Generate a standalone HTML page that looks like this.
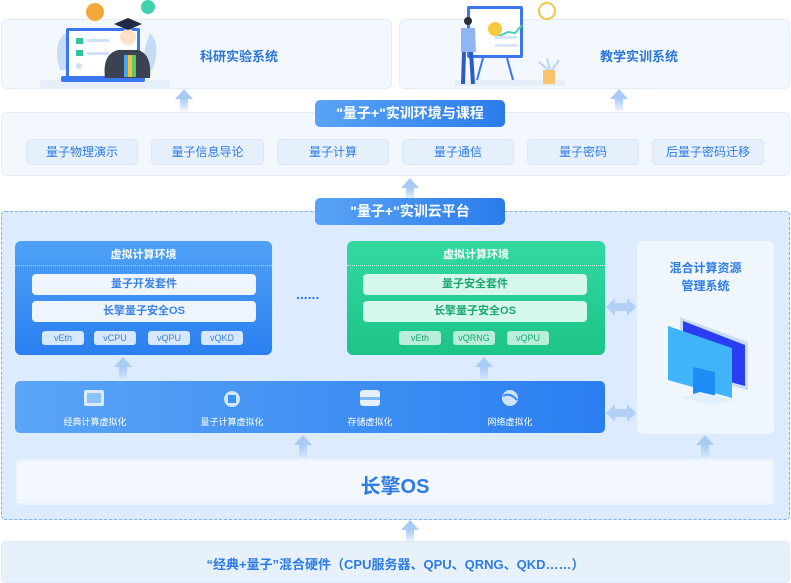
<!DOCTYPE html>
<html><head><meta charset="utf-8">
<style>
*{margin:0;padding:0;box-sizing:border-box}
body{width:791px;height:583px;background:#fff;position:relative;overflow:hidden;font-family:"Liberation Sans","Noto Sans CJK SC",sans-serif}
.a{position:absolute}
.box{position:absolute;background:#f3f8fe;border:1px solid #e2edfa;border-radius:6px}
.t{position:absolute;text-align:center;white-space:nowrap}
.item{position:absolute;top:139px;height:26px;background:#e6f0fc;border:1px solid #dbe8f8;border-radius:4px;color:#2d7be6;font-size:12px;line-height:24px;text-align:center}
.pill{position:absolute;left:315px;width:190px;height:27px;border-radius:5px;background:linear-gradient(90deg,#5aa3f7,#2a7cea);color:#fff;font-weight:bold;font-size:14px;line-height:27px;text-align:center}
.up{position:absolute;width:18px;height:22px}
.up:before{content:"";position:absolute;left:0;top:0;border-left:9px solid transparent;border-right:9px solid transparent;border-bottom:10px solid #a9ccf6}
.up:after{content:"";position:absolute;left:5px;top:10px;width:8px;height:12px;background:linear-gradient(#a9ccf6,rgba(169,204,246,0.2))}
.env{position:absolute;top:241px;height:114px;border-radius:6px}
.bar{position:absolute;height:21px;border-radius:4px;font-size:11px;line-height:21px;text-align:center;font-weight:bold}
.chip{position:absolute;top:331px;width:42px;height:14px;border-radius:3px;font-size:9px;line-height:14px;text-align:center}
.vi{position:absolute;top:415px;color:#fff;font-size:9px;text-align:center;width:100px}
.dbl{position:absolute;width:30px;height:20px}
</style></head><body>

<div class="box" style="left:1px;top:19px;width:391px;height:70px"></div>
<div class="box" style="left:399px;top:19px;width:391px;height:70px"></div>
<div class="t" style="left:200px;top:46px;font-size:13px;font-weight:bold;color:#2a76d8">科研实验系统</div>
<div class="t" style="left:600px;top:46px;font-size:13px;font-weight:bold;color:#2a76d8">教学实训系统</div>

<svg class="a" style="left:40px;top:0" width="130" height="90">
<rect x="0" y="80" width="130" height="8" fill="#e6eef9"/>
<path d="M20 70 Q12 45 25 33 Q30 50 28 70Z" fill="#c6dbf6"/>
<path d="M112 70 Q122 45 110 33 Q102 52 104 70Z" fill="#c6dbf6"/>
<rect x="26" y="28" width="74" height="50" rx="2" fill="#3a76ef"/>
<rect x="29" y="31" width="68" height="45" fill="#fff"/>
<rect x="21" y="76" width="84" height="6" rx="2" fill="#3a76ef"/>
<rect x="36" y="38" width="7" height="6" fill="#2fc3a0"/><rect x="36" y="50" width="7" height="6" fill="#2fc3a0"/>
<circle cx="39" cy="66" r="3" fill="#cfe0fa"/>
<rect x="47" y="39" width="22" height="3" fill="#cfe0fa"/><rect x="47" y="52" width="22" height="3" fill="#cfe0fa"/>
<circle cx="55" cy="12" r="9" fill="#f4a83a"/><circle cx="108" cy="7" r="7" fill="#3fd3b0"/>
<path d="M65 78 Q62 54 78 50 L98 50 Q112 54 110 78Z" fill="#3b4252"/>
<circle cx="88" cy="37" r="8" fill="#fde0c8"/>
<path d="M74 24 L88 18 L102 24 L88 30Z" fill="#1f2a44"/>
<rect x="84" y="55" width="4" height="22" fill="#4aa4f0"/><rect x="88" y="55" width="4" height="22" fill="#f4c430"/><rect x="92" y="55" width="4" height="22" fill="#5cc66b"/>
</svg>
<svg class="a" style="left:455px;top:0" width="110" height="88">
<rect x="0" y="80" width="110" height="6" fill="#e6eef9"/>
<rect x="12" y="6" width="56" height="52" rx="2" fill="#3a76ef"/>
<rect x="15" y="9" width="50" height="46" fill="#fff"/>
<circle cx="40" cy="29" r="7" fill="#f8c840"/>
<path d="M42 37 L53 32 L60 33 L67 25" stroke="#4ad0b5" stroke-width="2" fill="none"/>
<rect x="40" y="36" width="22" height="3" fill="#d6e6fb"/><rect x="40" y="44" width="22" height="3" fill="#d6e6fb"/>
<circle cx="92" cy="11" r="8" fill="#fff" stroke="#f4c64a" stroke-width="2"/>
<path d="M28 58 L22 80 M52 58 L58 80" stroke="#3a76ef" stroke-width="2"/>
<path d="M95 70 L92 58 M97 70 L104 60 M93 70 L84 62" stroke="#b9d6f8" stroke-width="2"/>
<rect x="88" y="70" width="12" height="14" fill="#f6c56a"/>
<circle cx="13" cy="21" r="4" fill="#2b2b3a"/>
<path d="M6 28 L20 28 L21 52 L6 52Z" fill="#8fb6f2"/>
<path d="M9 52 L8 84 M16 52 L18 84" stroke="#2a5bc8" stroke-width="4"/>
</svg>

<div class="up" style="left:175px;top:89px"></div>
<div class="up" style="left:610px;top:89px"></div>

<div class="box" style="left:1px;top:112px;width:789px;height:64px"></div>
<div class="pill" style="top:100px">"量子+"实训环境与课程</div>
<div class="item" style="left:26px;width:112px">量子物理演示</div>
<div class="item" style="left:151px;width:113px">量子信息导论</div>
<div class="item" style="left:277px;width:112px">量子计算</div>
<div class="item" style="left:402px;width:112px">量子通信</div>
<div class="item" style="left:527px;width:112px">量子密码</div>
<div class="item" style="left:652px;width:112px">后量子密码迁移</div>

<div class="up" style="left:401px;top:178px"></div>

<div class="a" style="left:1px;top:211px;width:789px;height:309px;background:#dcebfd;border:1px dashed #7fb0f1;border-radius:4px"></div>
<div class="pill" style="top:198px">"量子+"实训云平台</div>

<div class="env" style="left:15px;width:257px;background:linear-gradient(#4fa1f6,#2a7ff0)"></div>
<div class="t" style="left:15px;width:257px;top:246px;color:#fff;font-size:11px;font-weight:bold">虚拟计算环境</div>
<div class="a" style="left:15px;top:265px;width:257px;border-top:1px dotted #bcd9fb"></div>
<div class="bar" style="left:32px;top:274px;width:224px;background:#eef5fe;color:#3b82e8">量子开发套件</div>
<div class="bar" style="left:32px;top:301px;width:224px;background:#eef5fe;color:#3b82e8">长擎量子安全OS</div>
<div class="chip" style="left:42px;background:#d6e8fd;color:#3b82e8">vEth</div>
<div class="chip" style="left:94px;background:#d6e8fd;color:#3b82e8">vCPU</div>
<div class="chip" style="left:148px;background:#d6e8fd;color:#3b82e8">vQPU</div>
<div class="chip" style="left:201px;background:#d6e8fd;color:#3b82e8">vQKD</div>

<div class="t" style="left:296px;top:286px;color:#2d7be6;font-size:14px;font-weight:bold;letter-spacing:0px">......</div>

<div class="env" style="left:347px;width:258px;background:linear-gradient(#33d9a0,#1cc487)"></div>
<div class="t" style="left:347px;width:258px;top:246px;color:#fff;font-size:11px;font-weight:bold">虚拟计算环境</div>
<div class="a" style="left:347px;top:265px;width:258px;border-top:1px dotted #c5f3e1"></div>
<div class="bar" style="left:363px;top:274px;width:224px;background:#d6f7eb;color:#18a86f">量子安全套件</div>
<div class="bar" style="left:363px;top:301px;width:224px;background:#d6f7eb;color:#18a86f">长擎量子安全OS</div>
<div class="chip" style="left:399px;background:#b9eedb;color:#18a86f">vEth</div>
<div class="chip" style="left:453px;background:#b9eedb;color:#18a86f">vQRNG</div>
<div class="chip" style="left:507px;background:#b9eedb;color:#18a86f">vQPU</div>

<div class="a" style="left:637px;top:241px;width:137px;height:193px;background:#eff6fe;border-radius:5px"></div>
<div class="t" style="left:637px;width:137px;top:259px;color:#2d7be6;font-size:12px;font-weight:bold;line-height:18px">混合计算资源<br>管理系统</div>
<svg class="a" style="left:660px;top:312px" width="95" height="100">
<path d="M20 5 L88 30 L88 78 L20 60Z" fill="#c9dcf6"/>
<path d="M23 9 L85 33 L85 74 L23 57Z" fill="#2a3df0"/>
<path d="M8 14 L72 36 L72 86 L8 68Z" fill="#3fb4f8"/>
<path d="M33 55 L55 60 L55 90 L33 84Z" fill="#1e8cf2"/>
<path d="M20 86 L55 93 L75 88 L40 80Z" fill="#e2f0fd"/>
</svg>

<svg class="dbl" style="left:606px;top:297px" viewBox="0 0 30 20"><path d="M0 10 L9 1 L9 6 L21 6 L21 1 L30 10 L21 19 L21 14 L9 14 L9 19Z" fill="#b3d1f7"/></svg>
<svg class="dbl" style="left:606px;top:403px" viewBox="0 0 30 20"><path d="M0 10 L9 1 L9 6 L21 6 L21 1 L30 10 L21 19 L21 14 L9 14 L9 19Z" fill="#b3d1f7"/></svg>

<div class="up" style="left:114px;top:357px"></div>
<div class="up" style="left:475px;top:357px"></div>

<div class="a" style="left:15px;top:381px;width:590px;height:52px;border-radius:5px;background:linear-gradient(90deg,#5aa5f7,#2a7ef0)"></div>
<svg class="a" style="left:83px;top:389px" width="22" height="18"><rect x="1" y="1" width="20" height="16" rx="2" fill="#dbeafe"/><rect x="4" y="4" width="14" height="10" fill="#8cc2f8"/></svg>
<svg class="a" style="left:220px;top:389px" width="24" height="20"><circle cx="12" cy="10" r="8" fill="#cfe6fd"/><rect x="8" y="6" width="8" height="8" fill="#3a93f3"/></svg>
<svg class="a" style="left:359px;top:389px" width="22" height="18"><rect x="1" y="1" width="20" height="16" rx="3" fill="#e4f0fe"/><rect x="1" y="8" width="20" height="3" fill="#7fb8f5"/></svg>
<svg class="a" style="left:499px;top:388px" width="22" height="20"><circle cx="11" cy="10" r="8" fill="#cfe3fb"/><path d="M4 8 Q11 4 18 12" stroke="#3a8cf0" stroke-width="2" fill="none"/></svg>
<div class="vi" style="left:45px">经典计算虚拟化</div>
<div class="vi" style="left:182px">量子计算虚拟化</div>
<div class="vi" style="left:320px">存储虚拟化</div>
<div class="vi" style="left:460px">网络虚拟化</div>

<div class="up" style="left:294px;top:435px"></div>
<div class="up" style="left:696px;top:435px"></div>

<div class="a" style="left:16px;top:459px;width:758px;height:46px;background:#f2f8fe;border:2px dotted #e6f0fc;border-radius:4px"></div>
<div class="t" style="left:16px;width:758px;top:470px;color:#2d7be6;font-size:20px;font-weight:bold">长擎OS</div>

<div class="up" style="left:401px;top:520px"></div>

<div class="a" style="left:1px;top:541px;width:789px;height:42px;background:#e6f1fd;border:1px solid #dbe9fa;border-radius:5px"></div>
<div class="t" style="left:1px;width:789px;top:554px;color:#2d7be6;font-size:13px;font-weight:bold">“经典+量子”混合硬件（CPU服务器、QPU、QRNG、QKD……）</div>
</body></html>
